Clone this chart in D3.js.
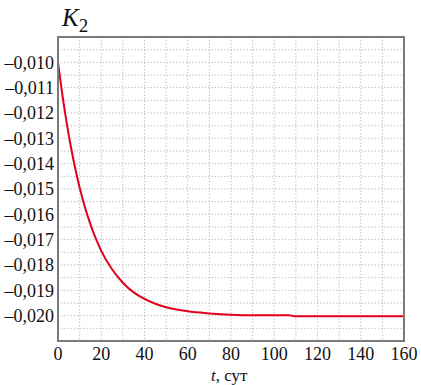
<!DOCTYPE html>
<html><head><meta charset="utf-8">
<script src="https://cdn.jsdelivr.net/npm/d3@7"></script>
<style>
  body { margin: 0; background: #fff; }
  #s, #s text, #s tspan { font-family: "Liberation Serif", "Times New Roman", serif !important; }
</style>
</head>
<body>
<svg id="s" width="421" height="385" font-family="Liberation Serif"></svg>
<script>
// time, days
const tDays = [0, 2, 4, 6, 8, 10, 12, 14, 16, 18, 20, 25, 30, 35, 40, 45, 50, 60, 70, 80, 90, 107, 109, 130, 160];
// K2
const k2Values = [-0.0100, -0.01127, -0.01238, -0.01335, -0.01420, -0.01494, -0.01558, -0.01614, -0.01663,
    -0.01706, -0.01744, -0.01817, -0.01870, -0.01908, -0.01934, -0.01953, -0.01967, -0.01983, -0.01991,
    -0.01996, -0.01998, -0.01998, -0.02002, -0.02002, -0.02002];
const xTicks = [0, 20, 40, 60, 80, 100, 120, 140, 160];
const yTicks = [-0.010, -0.011, -0.012, -0.013, -0.014, -0.015, -0.016, -0.017, -0.018, -0.019, -0.020];

const margin = {left: 58, right: 17, top: 37, bottom: 44};
const width = 421 - margin.left - margin.right;
const height = 385 - margin.top - margin.bottom;

let svg = d3.select('#s');
let g = svg.append('g').attr('transform', `translate(${margin.left},${margin.top})`);

let xScale = d3.scaleLinear().domain([0, 160]).range([0, width]);
let yScale = d3.scaleLinear().domain([-0.021, -0.009]).range([height, 0]);

// dotted grid
g.append('g').selectAll('line').data(d3.range(10, 160, 10))
    .join('line')
    .attr('x1', d => xScale(d)).attr('x2', d => xScale(d))
    .attr('y1', 0).attr('y2', height)
    .attr('stroke', '#b8b8b8').attr('stroke-dasharray', '1.2,2');
g.append('g').selectAll('line').data(d3.range(1, 24).map(i => -0.021 + i * 0.0005))
    .join('line')
    .attr('x1', 0).attr('x2', width)
    .attr('y1', d => yScale(d)).attr('y2', d => yScale(d))
    .attr('stroke', '#b8b8b8').attr('stroke-dasharray', '1.2,2');

let fmt = d => d.toFixed(3).replace('-', '\u2013').replace('.', ',');

// axis labels, no tick marks
yTicks.forEach(v => {
    g.append('text').attr('x', -4).attr('y', yScale(v)).attr('dy', '0.35em')
        .attr('text-anchor', 'end')
        .style('font-size', '18px')
        .attr('fill', '#111').text(fmt(v));
});
xTicks.forEach(v => {
    g.append('text').attr('x', xScale(v)).attr('y', height + 19)
        .attr('text-anchor', 'middle')
        .style('font-size', '18px')
        .attr('fill', '#111').text(d3.format('d')(v));
});

// curve
let data = tDays.map((t, i) => ({t: t, v: k2Values[i]}));
let lineGenerator = d3.line()
    .x(d => xScale(d.t))
    .y(d => yScale(d.v))
    .curve(d3.curveMonotoneX);
g.append('path').attr('d', lineGenerator(data))
    .attr('fill', 'none').attr('stroke', '#e3001b').attr('stroke-width', 2);

// frame
g.append('rect').attr('x', 0).attr('y', 0).attr('width', width).attr('height', height)
    .attr('fill', 'none').attr('stroke', '#7a7a7a').attr('stroke-width', 2);

// titles
let title = svg.append('text').attr('x', 62).attr('y', 26)
    .style('font-size', '25px').attr('fill', '#111');
title.append('tspan').text('K').style('font-style', 'italic');
title.append('tspan').text('2').attr('dy', 6).style('font-size', '19px');

let xlab = svg.append('text').attr('x', 211).attr('y', 381)
    .style('font-size', '17px').attr('fill', '#111');
xlab.append('tspan').text('t').style('font-style', 'italic');
xlab.append('tspan').text(', сут');
</script>
</body></html>
